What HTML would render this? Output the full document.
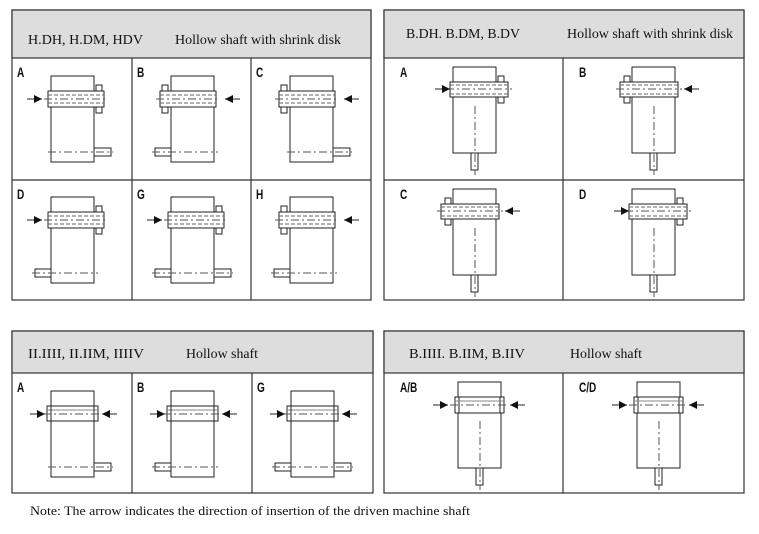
<!DOCTYPE html>
<html><head><meta charset="utf-8"><style>
html,body{margin:0;padding:0;background:#fff;width:759px;height:534px;overflow:hidden}
.sf{font-family:"Liberation Serif",serif}
.lb{font-family:"Liberation Sans",sans-serif}
</style></head><body>
<svg id="s" width="759" height="534" xmlns="http://www.w3.org/2000/svg">
<g stroke="#333" fill="#ddd" stroke-width="1.2">
<rect x="12" y="10" width="359" height="290" fill="#fff"/>
<rect x="12" y="10" width="359" height="48"/>
<rect x="384" y="10" width="360" height="290" fill="#fff"/>
<rect x="384" y="10" width="360" height="48"/>
<rect x="12" y="331" width="361" height="162" fill="#fff"/>
<rect x="12" y="331" width="361" height="42"/>
<rect x="384" y="331" width="360" height="162" fill="#fff"/>
<rect x="384" y="331" width="360" height="42"/>
<line x1="12" y1="180" x2="371" y2="180"/>
<line x1="132" y1="58" x2="132" y2="300"/>
<line x1="251" y1="58" x2="251" y2="300"/>
<line x1="384" y1="180" x2="744" y2="180"/>
<line x1="563" y1="58" x2="563" y2="300"/>
<line x1="132" y1="373" x2="132" y2="493"/>
<line x1="252" y1="373" x2="252" y2="493"/>
<line x1="563" y1="373" x2="563" y2="493"/>
</g>
<g class="sf" font-size="14" fill="#111">
<text x="28" y="44" textLength="115" lengthAdjust="spacingAndGlyphs">H.DH, H.DM, HDV</text>
<text x="175" y="44" textLength="166" lengthAdjust="spacingAndGlyphs">Hollow shaft with shrink disk</text>
<text x="406" y="38" textLength="114" lengthAdjust="spacingAndGlyphs">B.DH. B.DM, B.DV</text>
<text x="567" y="38" textLength="166" lengthAdjust="spacingAndGlyphs">Hollow shaft with shrink disk</text>
<text x="28" y="358" textLength="116" lengthAdjust="spacingAndGlyphs">II.IIII, II.IIM, IIIIV</text>
<text x="186" y="358" textLength="72" lengthAdjust="spacingAndGlyphs">Hollow shaft</text>
<text x="409" y="358" textLength="116" lengthAdjust="spacingAndGlyphs">B.IIII. B.IIM, B.IIV</text>
<text x="570" y="358" textLength="72" lengthAdjust="spacingAndGlyphs">Hollow shaft</text>
<text x="30" y="515" font-size="13" textLength="440" lengthAdjust="spacingAndGlyphs">Note: The arrow indicates the direction of insertion of the driven machine shaft</text>
</g>
<g id="d" fill="none" stroke="#222" stroke-width="1"></g>
<g id="t" class="lb" font-size="14" font-weight="bold" fill="#111"></g>
</svg>
<script>
var d=document.getElementById('d'),t=document.getElementById('t'),o='';var tt='';
function R(x,y,w,h,ex){o+='<rect x="'+x+'" y="'+y+'" width="'+w+'" height="'+h+'" fill="#fff" '+(ex||'')+'/>';}
function L(a,b,c,e,ex){o+='<line x1="'+a+'" y1="'+b+'" x2="'+c+'" y2="'+e+'" '+(ex||'')+'/>';}
var DA='stroke-dasharray="8,3,2,3" stroke="#555"',DS='stroke-dasharray="4,2" stroke="#666"';
function arrow(x,y,dir){
 if(dir>0){L(x-15,y,x,y);o+='<polygon points="'+x+','+y+' '+(x-8)+','+(y-4)+' '+(x-8)+','+(y+4)+'" fill="#111" stroke="none"/>';}
 else{L(x,y,x+15,y);o+='<polygon points="'+x+','+y+' '+(x+8)+','+(y-4)+' '+(x+8)+','+(y+4)+'" fill="#111" stroke="none"/>';}}
function lab(x,y,s){tt+='<text x="'+x+'" y="'+y+'" transform="translate('+x+','+y+') scale(0.72,1) translate('+(-x)+','+(-y)+')">'+s+'</text>';}
function H(cx,cy,l,disk,arr,sl,sr,dy){cy+=dy;lab(cx+5,cy+19-dy,l);
 R(cx+39,cy+18,43,86);
 if(sl){R(cx+23,cy+90,16,8);}
 if(sr){R(cx+82,cy+90,17,8);}
 L(cx+(sl?20:36),cy+94,cx+(sr?101:86),cy+94,DA);
 if(disk>0)R(cx+84,cy+27,6,28);else R(cx+30,cy+27,6,28);
 var sx=disk>0?36:28;R(cx+sx,cy+33,56,16);
 L(cx+sx,cy+37,cx+sx+56,cy+37,DS);L(cx+sx,cy+45,cx+sx+56,cy+45,DS);L(cx+sx-4,cy+41,cx+sx+60,cy+41,DA);
 if(arr>0)arrow(cx+30,cy+41,1);else arrow(cx+93,cy+41,-1);}
H(12,58,'A',1,1,0,1,0);H(132,58,'B',-1,-1,1,0,0);H(251,58,'C',-1,-1,0,1,0);
H(12,180,'D',1,1,1,0,-1);H(132,180,'G',1,1,1,1,-1);H(251,180,'H',-1,-1,1,0,-1);
function B(cx,cy,l,disk,arr){lab(cx+16,cy+19,l);
 R(cx+69,cy+9,43,86);R(cx+87,cy+95,7,17);L(cx+91,cy+48,cx+91,cy+117,DA);
 var sx=disk>0?66:57;if(disk>0)R(cx+114,cy+18,6,27);else R(cx+61,cy+18,6,27);
 R(cx+sx,cy+24,58,15);L(cx+sx,cy+27,cx+sx+58,cy+27,DS);L(cx+sx,cy+36,cx+sx+58,cy+36,DS);L(cx+sx-4,cy+31,cx+sx+62,cy+31,DA);
 if(arr>0)arrow(cx+sx,cy+31,1);else arrow(cx+sx+64,cy+31,-1);}
B(384,58,'A',1,1);B(563,58,'B',-1,-1);B(384,180,'C',-1,-1);B(563,180,'D',1,1);
function HH(cx,cy,l,sl,sr){lab(cx+5,cy+19,l);
 R(cx+39,cy+18,43,86);if(sl)R(cx+23,cy+90,16,8);if(sr)R(cx+82,cy+90,17,8);
 L(cx+(sl?20:36),cy+94,cx+(sr?101:86),cy+94,DA);
 R(cx+35,cy+33,51,15);L(cx+35,cy+37,cx+86,cy+37,'stroke="#888"');L(cx+39,cy+33,cx+39,cy+48);L(cx+82,cy+33,cx+82,cy+48);L(cx+31,cy+41,cx+90,cy+41,DA);
 arrow(cx+33,cy+41,1);arrow(cx+90,cy+41,-1);}
HH(12,373,'A',0,1);HH(132,373,'B',1,0);HH(252,373,'G',1,1);
function BH(cx,cy,l){lab(cx+16,cy+19,l);
 R(cx+74,cy+9,43,86);R(cx+92,cy+95,7,17);L(cx+96,cy+48,cx+96,cy+117,DA);
 R(cx+71,cy+24,49,16);L(cx+75,cy+24,cx+75,cy+40);L(cx+116,cy+24,cx+116,cy+40);L(cx+71,cy+28,cx+120,cy+28,'stroke="#888"');L(cx+66,cy+32,cx+124,cy+32,DA);
 arrow(cx+64,cy+32,1);arrow(cx+126,cy+32,-1);}
BH(384,373,'A/B');BH(563,373,'C/D');
d.innerHTML=o;t.innerHTML=tt;
</script>
</body></html>
